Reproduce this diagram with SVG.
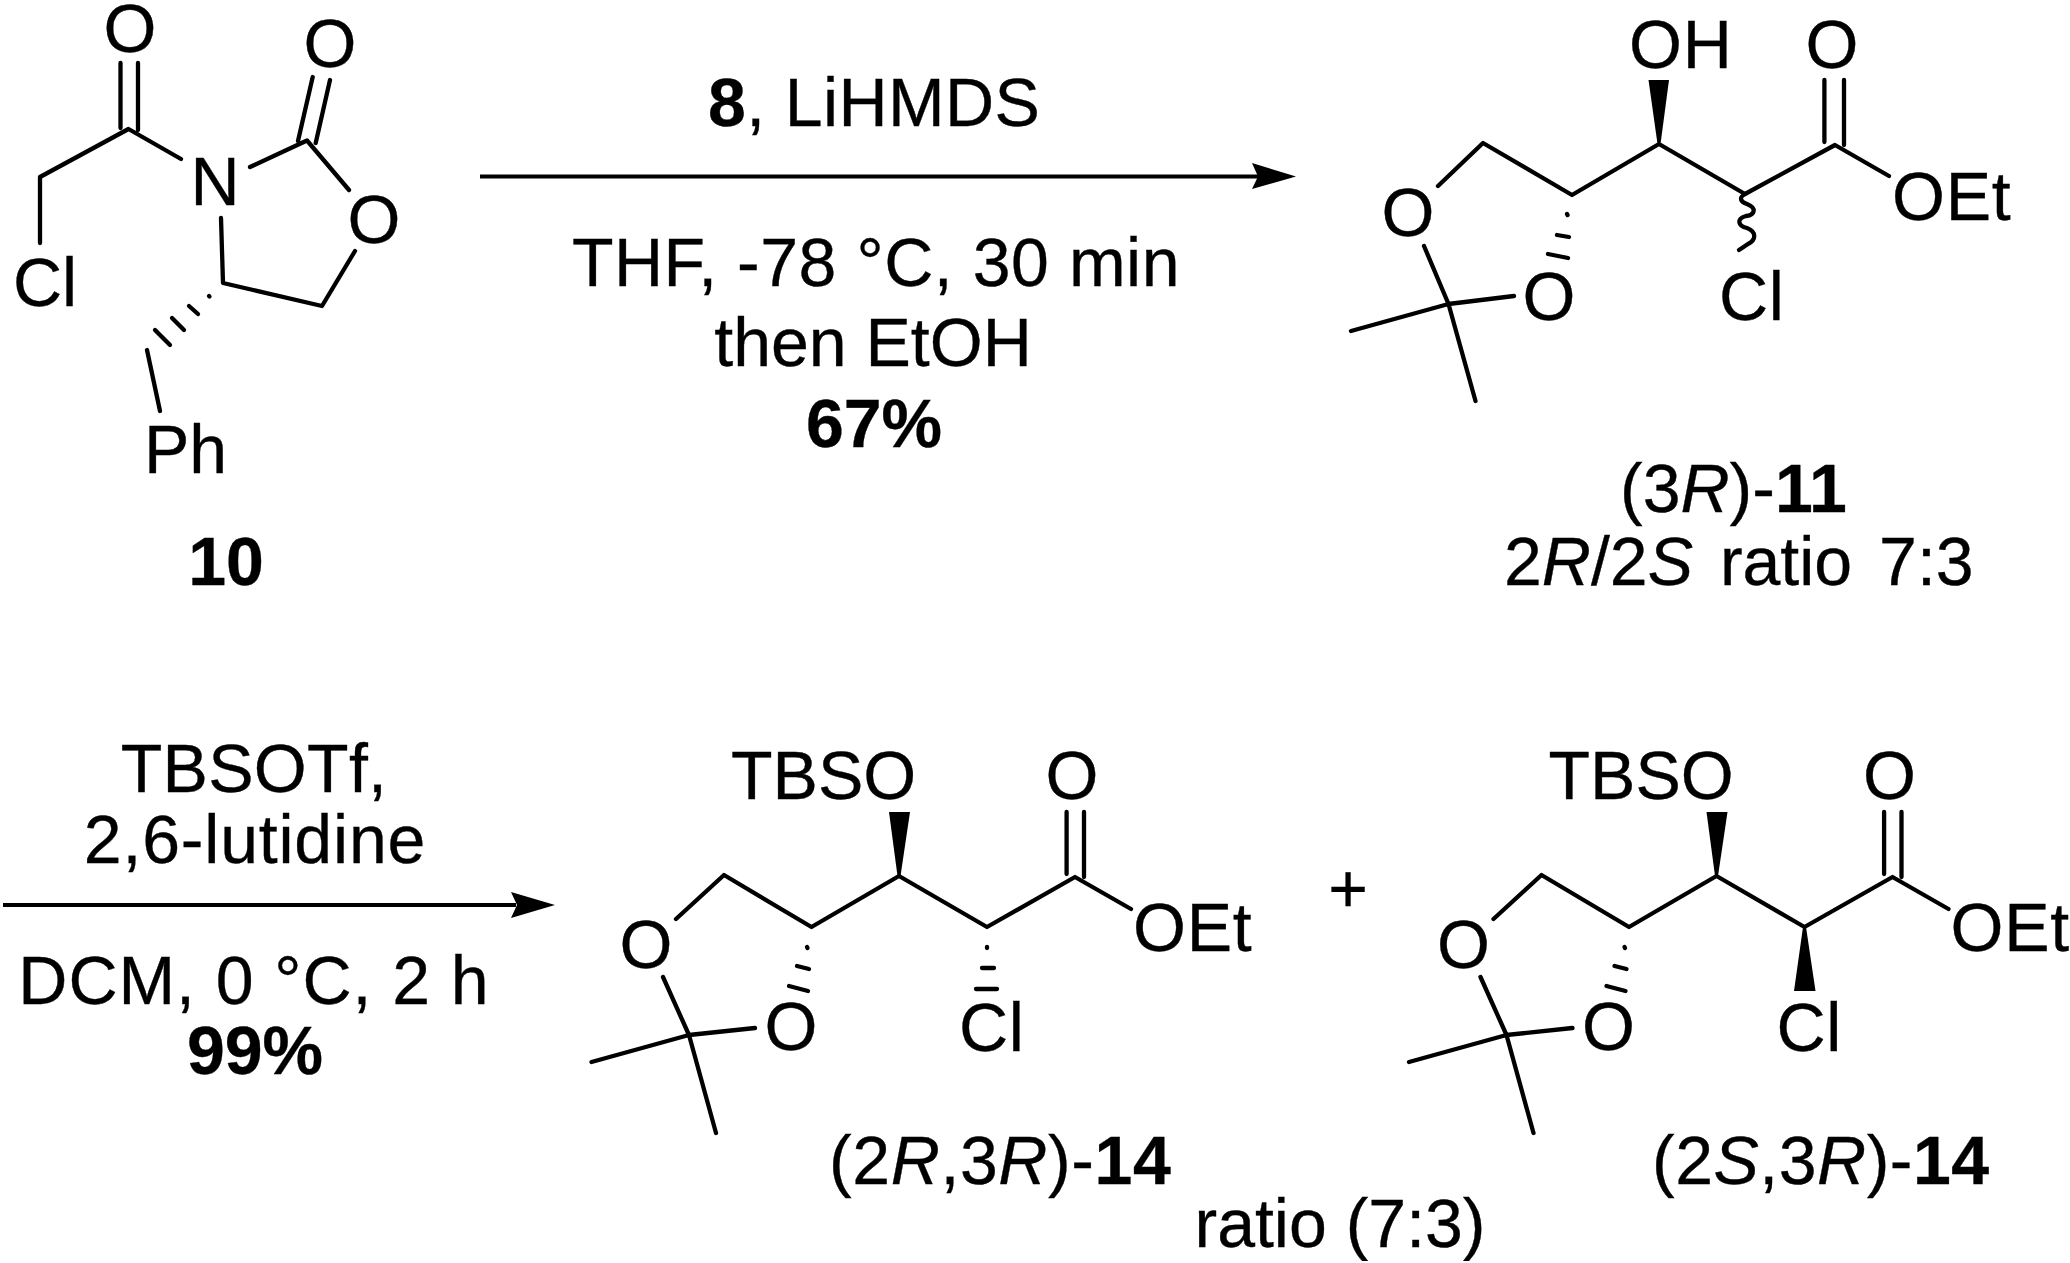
<svg xmlns="http://www.w3.org/2000/svg" width="2070" height="1263" viewBox="0 0 2070 1263">
<style>
text{font-family:"Liberation Sans",Arial,Helvetica,sans-serif;font-size:68px;fill:#000;stroke:#000;stroke-width:.35}
.b{font-weight:bold}
.i{font-style:italic}
.m{text-anchor:middle}
path.s{fill:none;stroke:#000;stroke-width:4.3;stroke-linecap:round;stroke-linejoin:round}
path.f{fill:#000;stroke:none}
path.a{fill:none;stroke:#000;stroke-width:3.8}
</style>
<defs>
<filter id="soft" x="0" y="0" width="100%" height="100%"><feGaussianBlur stdDeviation="0.6"/></filter>
<g id="skeleton14">
<path class="s" d="M676 919L724 875L811.5 927L899 876L987 927L1075 877L1131 909M1066.6 812V874M1084 812V877M663 977L689 1035L755 1028M689 1035L591.5 1062M689 1035L716 1133"/>
<path class="f" d="M889 812H910L900.5 876H897.5Z"/>
<path class="s" d="M807 947L807.5 948M797 966L809 969M789 986L808 991"/>
<text class="m" x="646" y="968">O</text>
<text class="m" x="791" y="1050">O</text>
<text x="731" y="799">TBSO</text>
<text class="m" x="1072" y="799">O</text>
<text x="1133" y="951" letter-spacing=".8">OEt</text>
<text x="959" y="1051" letter-spacing=".6">Cl</text>
</g>
</defs>
<rect width="2070" height="1263" fill="#fff"/>
<g filter="url(#soft)">
<g id="connectors">
<path class="a" d="M480 176.5H1262"/>
<path class="f" d="M1252 163L1296 176.5L1252 189L1258 176.5Z"/>
<path class="a" d="M3 905H516"/>
<path class="f" d="M511 892L555 905L511 918L517 905Z"/>
</g>
<g id="compound-10">
<path class="s" d="M120.5 63V128M138 63V130M40 243V177L128.5 129L181 159M250 167L307 140.5L349 190M312.7 77L298 141M330 80L315.7 143M355 251L322 306L223 283L221 218M147 350L160 411"/>
<path class="s" d="M209 296L209.5 296.5M189 306L198 314M172 318L184 330M155 330L170 345"/>
<text class="m" x="130" y="52">O</text>
<text class="m" x="330" y="67">O</text>
<text class="m" x="215" y="205">N</text>
<text class="m" x="374" y="243">O</text>
<text x="13" y="306">Cl</text>
<text x="144" y="473">Ph</text>
<text class="b m" x="226" y="585">10</text>
</g>
<g id="compound-3R-11">
<path class="s" d="M1438 186L1483 143L1572 195L1659 144L1745 194L1835 145L1889 176M1824.4 80V142M1844 80V145M1424 246L1448.5 304L1514 296M1448.5 304L1351 331M1448.5 304L1475.5 401"/>
<path class="f" d="M1648.5 80H1669L1660.5 144H1657.5Z"/>
<path class="s" d="M1567 214L1567.5 215M1557 235L1569 237M1548 254L1568 258"/>
<path class="s" d="M1745 194C1738 198 1741 202 1747 204C1757 208 1755 215 1746 216C1736 219 1738 226 1747 228C1757 232 1756 240 1748 244L1739 250"/>
<text class="m" x="1408" y="236">O</text>
<text class="m" x="1549" y="320">O</text>
<text x="1629" y="68" letter-spacing=".8">OH</text>
<text class="m" x="1832" y="68">O</text>
<text x="1892" y="220" letter-spacing=".8">OEt</text>
<text x="1719" y="320" letter-spacing=".6">Cl</text>
<text x="1620" y="512">(3<tspan class="i">R</tspan>)-<tspan class="b">11</tspan></text>
<text x="1504" y="585" word-spacing="8">2<tspan class="i">R</tspan>/2<tspan class="i">S</tspan> ratio 7:3</text>
</g>
<g id="compound-2R3R-14">
<use href="#skeleton14"/>
<path class="s" d="M987 947V948M982 968H994M976 989H997"/>
<text x="829" y="1184" letter-spacing=".6">(2<tspan class="i">R</tspan>,3<tspan class="i">R</tspan>)-<tspan class="b">14</tspan></text>
</g>
<g id="compound-2S3R-14">
<use href="#skeleton14" x="817.5"/>
<path class="f" d="M1803 927H1806L1815.5 991H1794Z"/>
<text x="1652" y="1184" letter-spacing=".5">(2<tspan class="i">S</tspan>,3<tspan class="i">R</tspan>)-<tspan class="b">14</tspan></text>
</g>
<g id="labels">
<text x="708" y="126" letter-spacing=".4"><tspan class="b">8</tspan>, LiHMDS</text>
<text class="m" x="876" y="286" letter-spacing=".55">THF, -78 °C, 30 min</text>
<text class="m" x="873" y="366">then EtOH</text>
<text class="b m" x="874" y="447">67%</text>
<text class="m" x="254" y="792" letter-spacing=".3">TBSOTf,</text>
<text class="m" x="255" y="863" letter-spacing=".8">2,6-lutidine</text>
<text class="m" x="254" y="1004" letter-spacing=".95">DCM, 0 °C, 2 h</text>
<text class="b m" x="255" y="1074">99%</text>
<text class="m" x="1348" y="912">+</text>
<text class="m" x="1340" y="1247">ratio (7:3)</text>
</g>
</g>
</svg>
